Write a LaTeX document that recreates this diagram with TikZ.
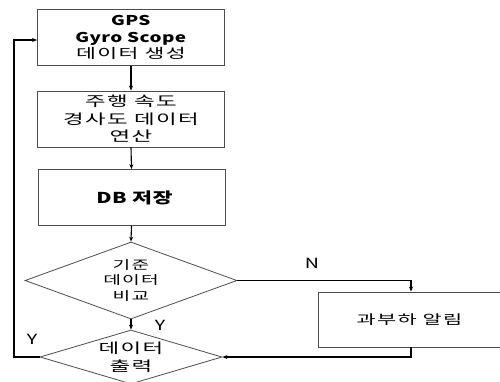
\documentclass[tikz,border=0pt]{standalone}
\usepackage{fontspec}
\setmainfont[FakeStretch=1.4,LetterSpace=3]{Noto Sans CJK KR}
\newfontfamily\kr[FakeStretch=1.6,LetterSpace=10]{Noto Sans CJK KR}
\newfontfamily\krb[FakeStretch=1.45,LetterSpace=3]{Noto Sans CJK KR}
\usetikzlibrary{shapes.geometric,arrows.meta}
\begin{document}
\begin{tikzpicture}[x=1pt,y=-1pt,
  box/.style={draw=black!70,line width=0.8pt,minimum width=187pt,minimum height=56pt,inner sep=0pt,align=center},
  dia/.style={draw=black!70,line width=0.8pt,shape=diamond,inner sep=0pt},
  txt/.style={align=center,inner sep=0pt},
  conn/.style={line width=1.1pt,-{Stealth[length=5pt,width=4pt]}},
  lbl/.style={font=\fontsize{14}{16}\selectfont}]
\useasboundingbox (0,0) rectangle (500,381);
\clip (0,0) rectangle (500,381);
\node[box,font=\fontsize{13.5}{16.5}\selectfont] (b1) at (131,37.5) {\textbf{GPS}\\\textbf{Gyro Scope}\\{\kr 데이터 생성}};
\node[box,font=\kr\fontsize{14}{17.5}\selectfont] (b2) at (131,119) {주행 속도\\경사도 데이터\\연산};
\node[box,font=\bfseries\fontsize{15}{17}\selectfont] (b3) at (131.5,197.5) {\hspace*{6pt}DB {\krb\bfseries 저장}};
\node[dia,minimum width=212pt,minimum height=77pt] (d1) at (131,280.5) {};
\node[txt,font=\kr\fontsize{12}{15.5}\selectfont] (t1) at (d1) {기준\\데이터\\비교};
\node[dia,minimum width=182pt,minimum height=54pt] (d2) at (131,357) {};
\node[txt,font=\kr\fontsize{14}{18}\selectfont] (t2) at (131,357.5) {데이터\\출력};
\node[draw=black!70,line width=0.8pt,minimum width=183pt,minimum height=55pt,inner sep=0pt,font=\kr\fontsize{13}{16}\selectfont] (b4) at (409.5,319.5) {과부하 알림};
\coordinate (nc) at (411,280.5);
\coordinate (bc) at (411,357);
\coordinate (l1) at (14,357);
\coordinate (l2) at (14,40);
\draw[conn] (b1.south) -- (b2.north);
\draw[conn] (b2.south) -- (b3.north);
\draw[conn] (b3.south) -- (d1.north);
\draw[conn] (d1.south) -- (d2.north);
\draw[conn] (d1.east) -- (nc) -- (b4.north -| nc);
\draw[conn] (b4.south -| bc) -- (bc) -- (d2.east);
\draw[conn] (d2.west) -- (l1) -- (l2) -- (l2 -| b1.west);
\node[lbl] (ln) at (312,263) {N};
\node[lbl] (ly1) at (160,325) {Y};
\node[lbl] (ly2) at (32,339) {Y};
\end{tikzpicture}
\end{document}
